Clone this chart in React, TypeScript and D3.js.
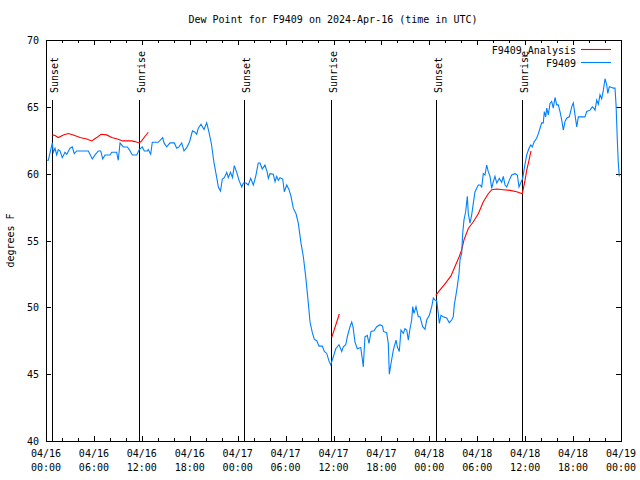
import { useEffect, useRef } from "react";
import * as d3 from "d3";

const WIDTH = 640;
const HEIGHT = 480;
const MARGIN = { top: 40, right: 19, bottom: 39, left: 46 };
const FONT = "'DejaVu Sans Mono', monospace";

const START = Date.UTC(2024, 3, 16, 0, 0);
const END = Date.UTC(2024, 3, 19, 0, 0);

// hours since 04/16 00:00 UTC, dew point in F
const STATION_HOURS = [
  0, 0.29, 0.79, 0.91, 1.13, 1.34, 1.54, 1.75, 2.04, 2.38, 2.59, 3.01, 3.29, 3.54, 3.84, 5.3, 5.8, 6.14,
  6.55, 6.85, 7.1, 7.39, 8.01, 8.23, 8.85, 9.05, 9.27, 9.68, 10.18, 10.43, 10.81, 11.36, 11.68, 12.06,
  12.31, 12.69, 12.81, 13.11, 13.31, 14.06, 14.61, 14.78, 15.11, 15.53, 16.07, 16.37, 16.65, 16.99,
  17.28, 17.62, 17.91, 18.03, 18.34, 18.66, 18.87, 19.07, 19.41, 19.78, 20.12, 20.37, 20.72, 21.04,
  21.35, 21.58, 21.85, 22.08, 22.33, 22.63, 22.83, 23.1, 23.35, 23.58, 23.88, 24.17, 24.51, 24.71,
  25.04, 25.33, 25.63, 25.96, 26.26, 26.58, 26.8, 27.08, 27.42, 27.71, 27.84, 28.05, 28.46, 28.68,
  28.89, 29.09, 29.3, 29.64, 29.84, 30.14, 30.43, 30.68, 30.97, 31.31, 31.59, 31.93, 32.22, 32.52,
  32.85, 33.06, 33.35, 33.6, 33.9, 34.19, 34.6, 34.85, 35.15, 35.48, 35.65, 35.98, 36.28, 36.69,
  37.03, 37.23, 37.53, 37.73, 38.07, 38.28, 38.44, 38.69, 38.98, 39.41, 39.66, 39.73, 39.94, 40.23,
  40.44, 40.7, 41.07, 41.41, 41.82, 42.14, 42.26, 42.66, 42.86, 42.99, 43.2, 43.49, 43.83, 43.99,
  44.24, 44.45, 44.74, 44.95, 45.17, 45.37, 45.58, 45.79, 45.92, 46.08, 46.33, 46.62, 46.83, 47.17,
  47.46, 47.67, 48.0, 48.3, 48.5, 48.71, 48.92, 49.12, 49.25, 49.46, 49.75, 50.17, 50.5, 50.8, 51.0,
  51.13, 51.3, 51.5, 51.72, 51.84, 52.05, 52.18, 52.34, 52.55, 52.76, 52.88, 53.09, 53.3, 53.51,
  53.72, 53.93, 54.13, 54.35, 54.56, 54.76, 54.97, 55.18, 55.38, 55.6, 55.81, 56.01, 56.22, 56.44,
  56.76, 57.06, 57.26, 57.48, 57.69, 58.01, 58.31, 58.73, 59.02, 59.23, 59.44, 59.69, 59.89, 60.19,
  60.48, 60.69, 60.89, 61.14, 61.44, 61.65, 61.86, 62.07, 62.27, 62.4, 62.57, 62.7, 62.9, 63.11,
  63.32, 63.52, 63.74, 63.95, 64.15, 64.36, 64.58, 64.78, 64.99, 65.2, 65.53, 65.83, 66.03, 66.24,
  66.46, 66.66, 67.49, 67.71, 68.12, 68.41, 68.59, 68.75, 68.96, 69.16, 69.37, 69.58, 69.79, 70.0,
  70.21, 70.34, 70.54, 70.84, 71.04, 71.25, 71.38, 71.54, 71.66, 71.79,
];
const STATION_DEW = [
  61.0, 61.0, 62.3, 61.6, 61.9, 61.4, 61.8, 61.7, 61.2, 61.6, 61.45, 61.9, 62.0, 61.5, 61.7, 61.7, 61.1, 61.4,
  61.7, 61.7, 61.1, 61.4, 61.4, 61.6, 61.6, 61.0, 62.3, 62.0, 62.0, 61.8, 61.4, 61.4, 61.8, 62.0,
  61.7, 61.7, 61.8, 61.45, 62.35, 62.35, 62.7, 62.3, 62.0, 62.3, 62.3, 61.9, 62.0, 62.3,
  61.7, 61.95, 62.3, 62.5, 63.2, 63.1, 62.95, 63.4, 63.7, 63.3, 63.8, 63.2, 62.2, 60.8,
  59.8, 59.0, 58.7, 59.6, 59.7, 60.1, 59.7, 60.1, 59.7, 60.6, 60.1, 59.5, 59.0, 59.3,
  59.3, 59.15, 59.65, 59.15, 59.8, 60.8, 60.8, 60.35, 60.65, 60.1, 59.65, 60.0, 59.95, 59.4,
  59.8, 59.5, 59.7, 59.6, 58.65, 59.15, 58.8, 58.3, 57.4, 57.0, 56.3, 54.8, 53.8, 52.3,
  50.3, 48.9, 48.1, 47.6, 47.5, 47.1, 47.1, 46.7, 46.55, 45.9, 45.7, 46.3, 46.9, 47.2,
  46.7, 47.05, 47.2, 47.8, 48.55, 48.9, 48.55, 47.4, 46.9, 47.0, 45.9, 45.55, 47.8, 47.9,
  47.3, 48.2, 48.25, 48.55, 48.7, 48.6, 48.2, 48.1, 47.3, 45.0, 45.8, 46.8, 47.55, 47.05,
  46.7, 48.3, 48.05, 48.4, 48.3, 47.55, 48.4, 49.05, 50.05, 49.55, 50.05, 49.3, 49.3, 48.55,
  48.35, 49.05, 49.4, 50.05, 50.7, 50.55, 50.5, 49.55, 48.8, 49.4, 49.3, 49.2, 48.85, 49.05, 49.3,
  50.2, 50.8, 51.55, 52.55, 53.55, 54.05, 55.55, 56.55, 57.15, 58.3, 57.0, 56.3, 56.9, 57.8,
  58.65, 58.9, 59.15, 59.15, 59.0, 60.0, 59.9, 60.65, 60.15, 59.8, 58.9, 59.4, 59.8, 59.3,
  59.65, 59.35, 59.8, 59.15, 59.0, 59.5, 59.9, 60.0, 59.9, 59.0, 59.3, 59.65, 60.4, 61.4,
  61.9, 62.15, 62.0, 62.4, 62.65, 63.0, 63.4, 63.8, 63.8, 64.65, 64.25, 64.9, 64.4, 65.25,
  65.4, 64.9, 65.7, 65.15, 65.15, 64.65, 64.0, 63.25, 63.9, 64.15, 64.25, 65.0, 65.3, 64.4,
  63.5, 64.25, 64.25, 64.65, 64.75, 65.0, 64.9, 64.75, 65.5, 65.2, 65.9, 65.6, 66.25, 67.1,
  66.65, 66.0, 66.5, 66.45, 66.4, 66.4, 65.15, 62.5, 60.8, 59.8,
];

// analysis comes in three separate runs
const ANALYSIS_HOURS = [
  [0.79, 1.13, 1.54, 2.17, 2.79, 3.42, 4.26, 5.1, 5.72, 6.35, 6.89, 7.6, 8.23, 8.93, 9.6, 10.73, 11.14, 11.68, 11.98, 12.4, 12.81],
  [35.78, 36.73],
  [48.8, 49.34, 49.96, 50.71, 51.21, 51.75, 52.05, 52.34, 52.88, 53.51, 54.13, 54.76, 55.38, 55.81, 56.44, 57.26, 58.1, 58.94, 59.64, 59.98, 60.19, 60.48, 60.73],
];
const ANALYSIS_DEW = [
  [62.9, 62.85, 62.7, 62.9, 63.0, 62.9, 62.7, 62.6, 62.45, 62.7, 62.95, 62.9, 62.7, 62.6, 62.45, 62.45, 62.4, 62.3, 62.45, 62.8, 63.1],
  [47.75, 49.5],
  [50.9, 51.3, 51.75, 52.35, 53.05, 53.8, 54.3, 55.05, 55.9, 56.4, 57.0, 57.9, 58.5, 58.8, 58.85, 58.8, 58.75, 58.65, 58.5, 59.5, 60.25, 61.0, 61.7],
];

const SUN_HOURS = [0.79, 11.68, 24.83, 35.73, 48.8, 59.64];
const SUN_LABELS = ["Sunset", "Sunrise", "Sunset", "Sunrise", "Sunset", "Sunrise"];

const Y_TICKS = [40, 45, 50, 55, 60, 65, 70];

const SERIES_NAMES = ["F9409_Analysis", "F9409"];
const SERIES_COLORS = ["#ff0000", "#0080ff"];

const toDate = (h: number) => new Date(START + h * 3600e3);

function draw(el: SVGSVGElement) {
  const svg = d3.select(el);
  svg.selectAll("*").remove();

  const x0 = MARGIN.left;
  const x1 = WIDTH - MARGIN.right;
  const y0 = MARGIN.top;
  const y1 = HEIGHT - MARGIN.bottom;

  const x = d3.scaleUtc().domain([new Date(START), new Date(END)]).range([x0, x1]);
  const y = d3.scaleLinear().domain([40, 70]).range([y1, y0]);

  svg.append("rect").attr("width", WIDTH).attr("height", HEIGHT).attr("fill", "white");

  // title
  svg.append("text")
    .attr("x", 333).attr("y", 23)
    .attr("text-anchor", "middle")
    .attr("font-family", FONT).attr("font-size", 10)
    .text("Dew Point for F9409 on 2024-Apr-16 (time in UTC)");

  // y axis ticks + labels
  Y_TICKS.forEach((v) => {
    const yy = Math.round(y(v)) + 0.5;
    svg.append("line").attr("x1", x0).attr("x2", x0 + 5).attr("y1", yy).attr("y2", yy).attr("stroke", "black");
    svg.append("line").attr("x1", x1 - 5).attr("x2", x1).attr("y1", yy).attr("y2", yy).attr("stroke", "black");
    svg.append("text")
      .attr("x", 39).attr("y", y(v) + 4)
      .attr("text-anchor", "end")
      .attr("font-family", FONT).attr("font-size", 10)
      .text(v);
  });

  // x axis ticks: every 2 hours, labels every 6
  const ticks = x.ticks(d3.utcHour.every(2)!);
  ticks.forEach((t) => {
    const major = t.getUTCHours() % 6 === 0;
    const len = major ? 5 : 3;
    const xx = Math.round(x(t)) + 0.5;
    svg.append("line").attr("x1", xx).attr("x2", xx).attr("y1", y1).attr("y2", y1 - len).attr("stroke", "black");
    svg.append("line").attr("x1", xx).attr("x2", xx).attr("y1", y0).attr("y2", y0 + len).attr("stroke", "black");
    if (major) {
      const lbl = svg.append("text")
        .attr("text-anchor", "middle")
        .attr("font-family", FONT).attr("font-size", 10);
      lbl.append("tspan").attr("x", x(t)).attr("y", 457).text(d3.utcFormat("%m/%d")(t));
      lbl.append("tspan").attr("x", x(t)).attr("y", 471).text(d3.utcFormat("%H:%M")(t));
    }
  });

  // y axis label
  svg.append("text")
    .attr("transform", `translate(14,${(y0 + y1) / 2}) rotate(-90)`)
    .attr("text-anchor", "middle")
    .attr("font-family", FONT).attr("font-size", 10)
    .text("degrees F");

  // sunrise / sunset markers
  SUN_HOURS.forEach((h, i) => {
    const xx = Math.round(x(toDate(h))) + 0.5;
    svg.append("line")
      .attr("x1", xx).attr("x2", xx)
      .attr("y1", 100).attr("y2", y1)
      .attr("stroke", "black");
    svg.append("text")
      .attr("transform", `translate(${xx + 5},93) rotate(-90)`)
      .attr("font-family", FONT).attr("font-size", 10)
      .text(SUN_LABELS[i]);
  });

  const line = d3.line<[number, number]>()
    .x((d) => x(toDate(d[0])))
    .y((d) => y(d[1]));

  // analysis (drawn first, station on top)
  ANALYSIS_HOURS.forEach((hs, k) => {
    const pts = hs.map((h, i) => [h, ANALYSIS_DEW[k][i]] as [number, number]);
    svg.append("path")
      .attr("d", line(pts))
      .attr("fill", "none")
      .attr("stroke", SERIES_COLORS[0])
      .attr("stroke-width", 1.1);
  });

  const station = STATION_HOURS.map((h, i) => [h, STATION_DEW[i]] as [number, number]);
  svg.append("path")
    .attr("d", line(station))
    .attr("fill", "none")
    .attr("stroke", SERIES_COLORS[1])
    .attr("stroke-width", 1.1);

  // frame
  svg.append("rect")
    .attr("x", x0 + 0.5).attr("y", y0 + 0.5)
    .attr("width", x1 - x0).attr("height", y1 - y0)
    .attr("fill", "none").attr("stroke", "black");

  // legend
  SERIES_NAMES.forEach((name, i) => {
    const ly = 49.5 + i * 13;
    svg.append("text")
      .attr("x", 576).attr("y", ly + 4)
      .attr("text-anchor", "end")
      .attr("font-family", FONT).attr("font-size", 10)
      .text(name);
    svg.append("line")
      .attr("x1", 581).attr("x2", 611)
      .attr("y1", ly).attr("y2", ly)
      .attr("stroke", SERIES_COLORS[i]).attr("stroke-width", 1.1);
  });
}

export default function App() {
  const ref = useRef<SVGSVGElement>(null);

  useEffect(() => {
    if (ref.current) draw(ref.current);
  }, []);

  return (
    <svg
      ref={ref}
      width={WIDTH}
      height={HEIGHT}
      style={{ position: "absolute", left: 0, top: 0, display: "block" }}
    />
  );
}
